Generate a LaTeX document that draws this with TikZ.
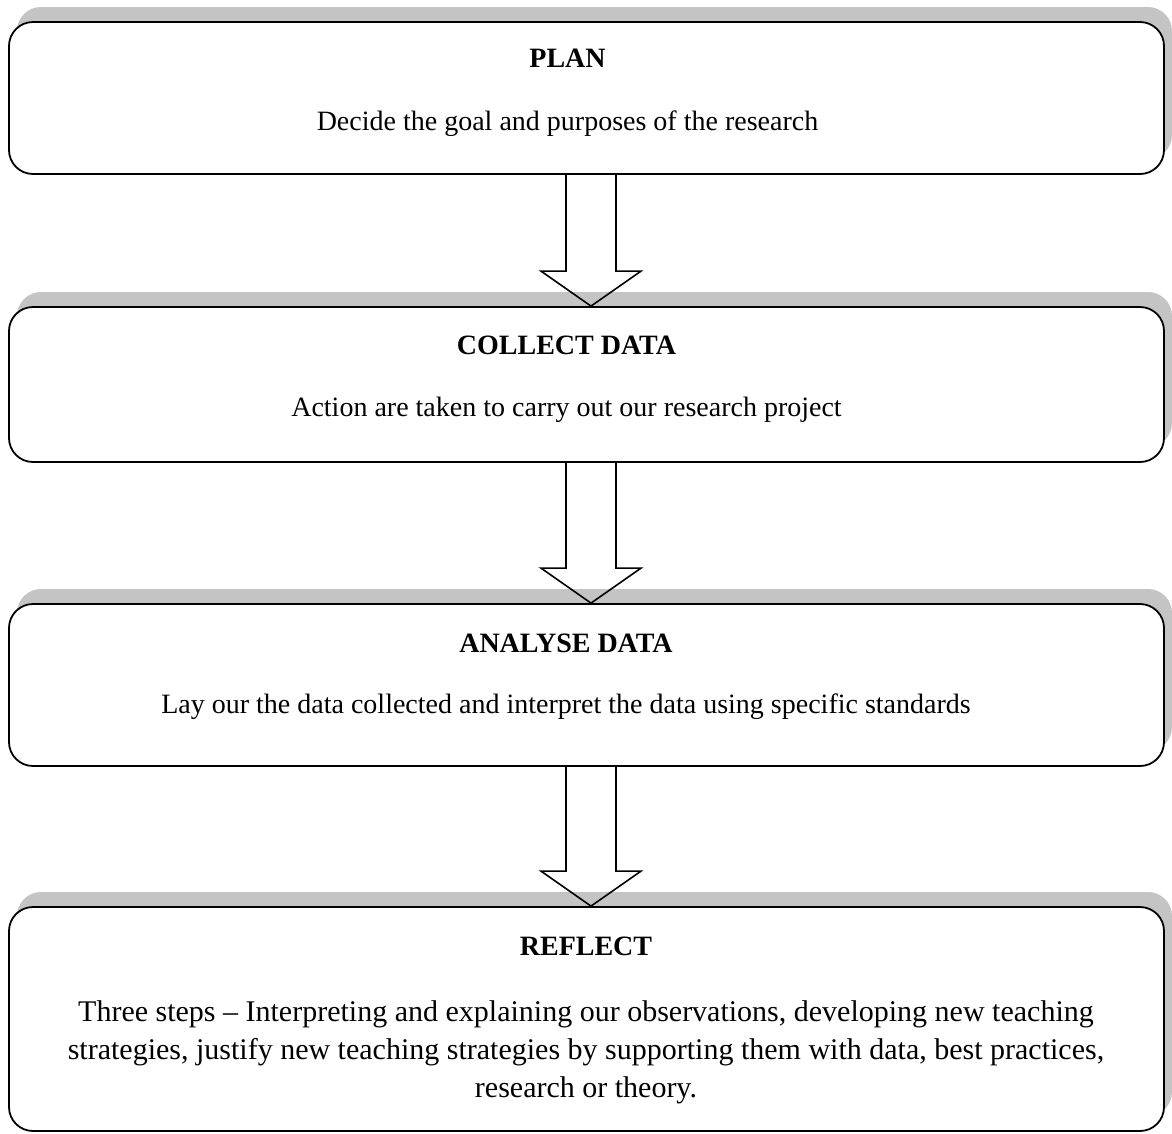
\documentclass[tikz,border=0pt]{standalone}
\usepackage{fontspec}
\setmainfont{Liberation Serif}
\usetikzlibrary{shadows,calc}
\definecolor{shadowgray}{HTML}{C4C4C4}
\begin{document}
\begin{tikzpicture}[x=1pt,y=-1pt,
  stagebox/.style={draw=black, line width=1.8pt, rounded corners=24pt, fill=white,
    drop shadow={shadow xshift=8pt, shadow yshift=15pt, fill=shadowgray, opacity=1},
    inner sep=0pt, minimum width=1155pt},
  titletext/.style={font=\fontsize{28}{34}\selectfont\bfseries, anchor=base, inner sep=0pt},
  bodytext/.style={font=\fontsize{28}{38}\selectfont, anchor=base, inner sep=0pt, align=center},
  hollowarrow/.style={draw=black, line width=1.6pt, line join=miter}
]
\useasboundingbox (0,0) rectangle (1172,1133);

% boxes
\node[stagebox, minimum height=152pt] (b1) at (586.5,98) {};
\node[stagebox, minimum height=155pt] (b2) at (586.5,384.5) {};
\node[stagebox, minimum height=162pt] (b3) at (586.5,685) {};
\node[stagebox, minimum height=224pt] (b4) at (586.5,1019) {};

% texts
\node[titletext] (t1) at (567.5,67) {PLAN};
\node[bodytext]  (d1) at (567.5,130) {Decide the goal and purposes of the research};
\node[titletext] (t2) at (566.5,354) {COLLECT DATA};
\node[bodytext]  (d2) at (566.5,416) {Action are taken to carry out our research project};
\node[titletext] (t3) at (566,652) {ANALYSE DATA};
\node[bodytext]  (d3) at (566,713) {Lay our the data collected and interpret the data using specific standards};
\node[titletext] (t4) at (586,955) {REFLECT};
\node[bodytext, font=\fontsize{30}{38}\selectfont, anchor=north] (d4) at (586,1000) {Three steps -- Interpreting and explaining our observations, developing new teaching\\
strategies, justify new teaching strategies by supporting them with data, best practices,\\
research or theory.};

% arrows
\foreach \a/\b in {b1/b2, b2/b3, b3/b4}{
  \coordinate (s) at ($(\a.south)+(4.5,0)$);
  \coordinate (e) at ($(\b.north)+(4.5,0)$);
  \draw[hollowarrow] ($(s)+(-25,0)$) -- ($(e)+(-25,-35)$) -- ($(e)+(-50,-35)$) -- (e)
    -- ($(e)+(50,-35)$) -- ($(e)+(25,-35)$) -- ($(s)+(25,0)$);
}
\end{tikzpicture}
\end{document}
